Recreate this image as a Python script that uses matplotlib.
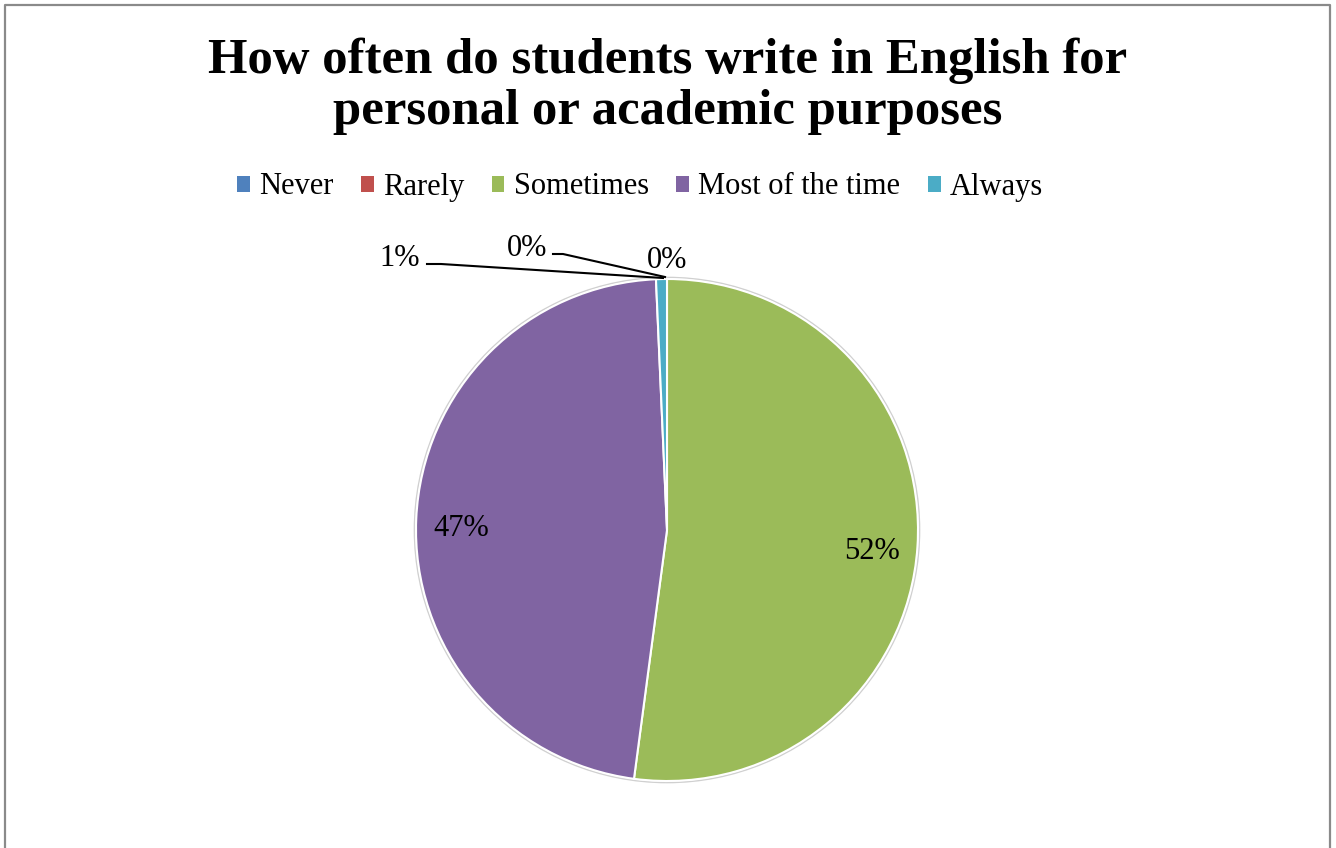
import matplotlib
matplotlib.use("Agg")
import numpy as np
from matplotlib import pyplot as plt
from matplotlib.patches import Patch

categories = ["Never", "Rarely", "Sometimes", "Most of the time", "Always"]
shares = [0.0, 0.0, 52.1, 47.2, 0.7]
colors = ["#4F81BD", "#C0504D", "#9BBB59", "#8064A2", "#4BACC6"]
title = "How often do students write in English for\npersonal or academic purposes"

W, H = 1336, 848
fig = plt.figure(figsize=(W / 100, H / 100), dpi=100)
ax = fig.add_axes([0, 0, 1, 1])
ax.set_xlim(0, W)
ax.set_ylim(0, H)
ax.set_aspect("equal")
ax.axis("off")

# chart frame (bottom runs off the page)
ax.plot([5, 5, 1330, 1330], [0, H - 5, H - 5, 0], color="#8a8a8a", lw=1.6)

cx, cy, r = 667, H - 530, 251
wedges, _ = ax.pie(shares, colors=colors, startangle=90, counterclock=False,
                   center=(cx, cy), radius=r, normalize=True,
                   wedgeprops=dict(edgecolor="white", linewidth=1.5))
ax.add_patch(plt.Circle((cx, cy), r + 1.5, fill=False, ec="#d0d0d0", lw=1.2, zorder=0))
ax.set_xlim(0, W)
ax.set_ylim(0, H)

serif = ["Liberation Serif", "DejaVu Serif"]
lab_fs = 22

def pct(v):
    return "%d%%" % round(v)

# big slices: labels inside
for w, v in zip(wedges, shares):
    if v < 5:
        continue
    mid = np.deg2rad((w.theta1 + w.theta2) / 2)
    ax.text(cx + 0.82 * r * np.cos(mid), cy + 0.82 * r * np.sin(mid) - 8, pct(v),
            ha="center", va="center", fontsize=lab_fs, family=serif)

# small slices: labels outside with leader lines
top = (cx, cy + r)
ax.text(667, H - 260, pct(shares[0]), ha="center", va="center", fontsize=lab_fs, family=serif)
ax.text(527, H - 248, pct(shares[1]), ha="center", va="center", fontsize=lab_fs, family=serif)
ax.plot([553, 563, top[0] - 2, ], [H - 254, H - 254, top[1] + 2], color="black", lw=1.5)
ax.text(400, H - 258, pct(shares[4]), ha="center", va="center", fontsize=lab_fs, family=serif)
ax.plot([427, 441, top[0] - 4], [H - 264, H - 264, top[1] + 1], color="black", lw=1.5)

fig.text(0.5, 1 - 86 / H, title, ha="center", va="center", fontsize=36.5,
         fontweight="bold", family=serif, linespacing=1.15)

handles = [Patch(facecolor=c, edgecolor="none") for c in colors]
fig.legend(handles, categories, loc="center", bbox_to_anchor=(0.479, 1 - 187 / H),
           ncol=5, frameon=False, handlelength=0.42, handleheight=0.42,
           handletextpad=0.3, columnspacing=0.9,
           prop=dict(family=serif, size=22))

fig.savefig("out.png", dpi=100)
